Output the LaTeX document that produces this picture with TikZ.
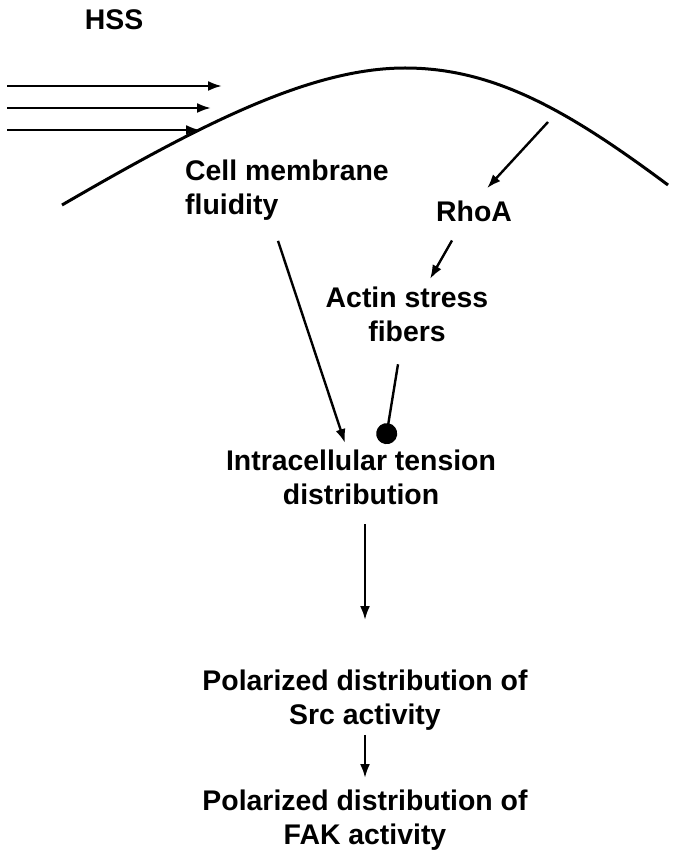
\documentclass[tikz,border=0pt]{standalone}
\usepackage{fontspec}
\setmainfont{Liberation Sans}
\usepackage{tikz}
\usetikzlibrary{arrows.meta,positioning,calc}

\begin{document}
\begin{tikzpicture}[
    x=1pt, y=-1pt,
    >={Latex[length=14pt,width=10pt]},
    txt/.style={inner sep=0pt, font=\fontsize{28.4}{34}\selectfont\bfseries, align=center},
    sigarrow/.style={draw, ->, line width=2.4pt},
    inhibit/.style={draw, -{Circle[length=21pt]}, line width=2.4pt},
    membrane/.style={draw, line width=3pt}
]
\useasboundingbox (0,0) rectangle (678,858);

% Labels from top to bottom
\node[txt, anchor=base] (hss) at (114,30) {HSS};
\node[txt, anchor=north west, align=left] (fluid) at (185,160) {Cell membrane\\fluidity};
\node[txt, anchor=base] (rhoa) at (474,222) {RhoA};
\node[txt, anchor=north] (actin) at (407,287) {Actin stress\\fibers};
\node[txt, anchor=north] (tension) at (361,450) {Intracellular tension\\distribution};
\node[txt, anchor=north] (src) at (365,670) {Polarized distribution of\\Src activity};
\node[txt, anchor=north] (fak) at (365,790) {Polarized distribution of\\FAK activity};

% Cell membrane
\draw[membrane] (62,205) .. controls (200,125) and (310,68) .. (405,68)
    .. controls (495,68) and (570,112) .. (668,185);
\coordinate (mem) at (548,122);

% Shear stress flow
\foreach \i/\y/\e in {1/86/222, 2/108/211, 3/130/200} {
    \coordinate (in\i) at (7,\y);
    \coordinate (out\i) at (\e,\y);
    \draw[sigarrow] (in\i) -- (out\i);
}

% Arrows showing signalling
\draw[sigarrow] (mem) -- ($(rhoa.north)+(13,-13)$);
\draw[sigarrow] ($(rhoa.south)+(-22,18)$) -- ($(actin.north)+(23,-8)$);
\draw[sigarrow] ($(fluid.south west)+(93,20)$) -- ($(tension.north)+(-16,-7)$);
\draw[inhibit] ($(actin.south)+(-9,22)$) -- ($(tension.north)+(24,-6)$);
\draw[sigarrow] ($(tension.south)+(4,19)$) -- ($(src.north)+(0,-50)$);
\draw[sigarrow] ($(src.south)+(0,4)$) -- ($(fak.north)+(0,-12)$);

\end{tikzpicture}
\end{document}
